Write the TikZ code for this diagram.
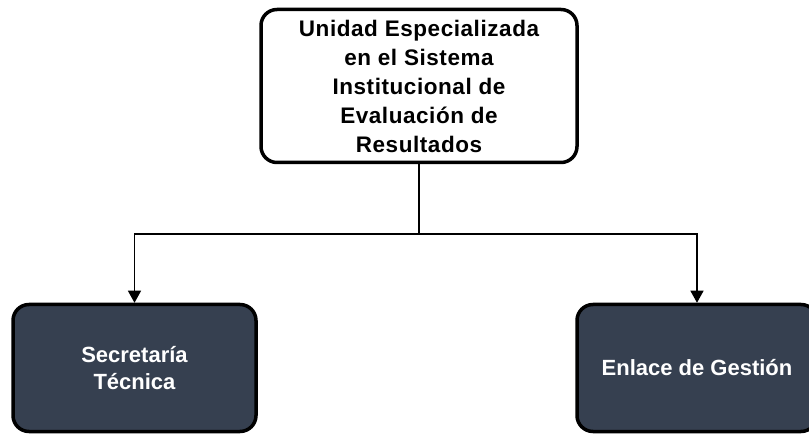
\documentclass[tikz,border=0pt]{standalone}
\usepackage{fontspec}
\setmainfont{Liberation Sans}
\usepackage{tikz}
\usetikzlibrary{arrows.meta}
\definecolor{slate}{RGB}{54,64,80}

\begin{document}
\begin{tikzpicture}[x=1pt, y=1pt]
        \tikzset{every node/.style={rounded corners=16pt, line width=3.5pt, draw=black, align=center, inner sep=0pt}}
        \tikzset{headbox/.style={fill=white, text=black, minimum width=316pt, minimum height=153pt,
            font=\fontsize{22.5}{29}\selectfont\bfseries\addfontfeatures{LetterSpace=2.5}}}
        \tikzset{unitbox/.style={fill=slate, text=white, minimum height=127pt,
            font=\fontsize{22}{27}\selectfont\bfseries}}
        \path[use as bounding box, clip] (0,0) rectangle (809,434);
        \node[headbox] (head) at (419, 348) {Unidad Especializada\\en el Sistema\\Institucional de\\Evaluación de\\Resultados};
        \node[unitbox, minimum width=243pt] (secre) at (134.5, 66) {Secretaría\\Técnica};
        \node[unitbox, minimum width=240pt] (enlace) at (697, 66) {Enlace de Gestión};
        \coordinate (split) at (419, 200);
        % connectors
        \tikzset{link/.style={line width=1.2pt}};
        \tikzset{linkarrow/.style={link, -{Triangle[length=12pt, width=13pt]}}};
        \draw[link] (head) -- (split);
        \draw[linkarrow] (split) -| (secre);
        \draw[linkarrow] (split) -| (enlace);
      \end{tikzpicture}
\end{document}
